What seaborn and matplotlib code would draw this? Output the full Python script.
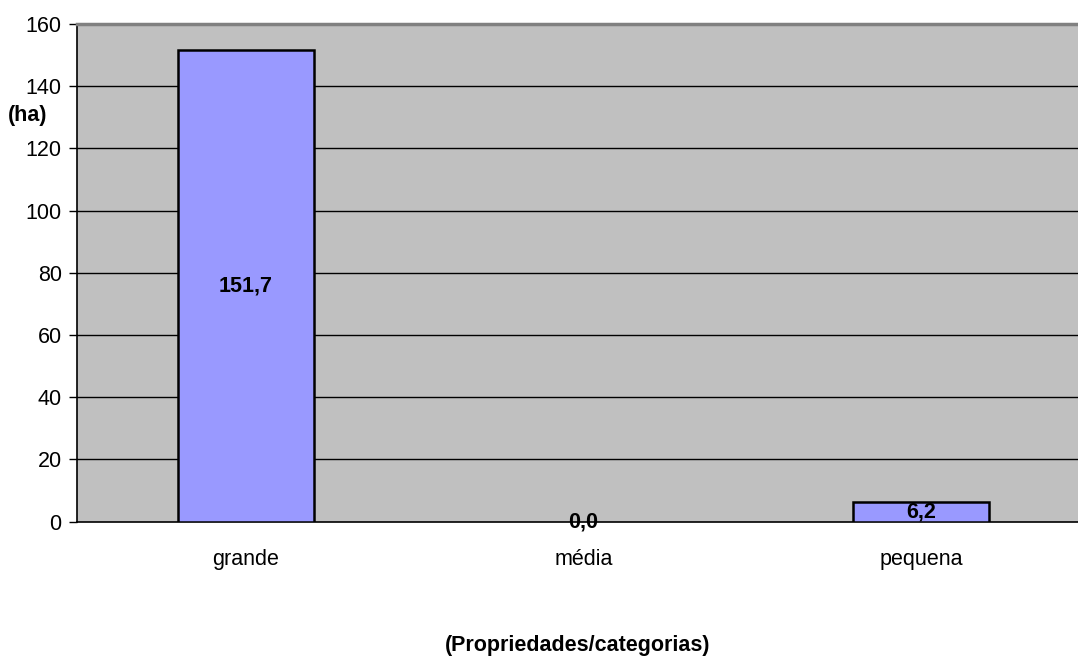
import matplotlib
matplotlib.use("Agg")
import matplotlib.pyplot as plt
import seaborn as sns
import pandas as pd

categorias = ["grande", "média", "pequena"]
area_ha = [151.7, 0.0, 6.2]
rotulos = ["151,7", "0,0", "6,2"]
y_ticks = [0, 20, 40, 60, 80, 100, 120, 140, 160]

sns.set_style("white")
plt.rcParams["font.family"] = ["Liberation Sans", "DejaVu Sans"]
plt.rcParams["text.color"] = "black"
plt.rcParams["xtick.color"] = "black"
plt.rcParams["ytick.color"] = "black"
plt.rcParams["xtick.labelcolor"] = "black"
plt.rcParams["ytick.labelcolor"] = "black"

FS = 15.5

df = pd.DataFrame({"categoria": categorias, "area": area_ha})

fig = plt.figure(figsize=(10.78, 6.66), dpi=100)
ax = fig.add_axes([77 / 1078, 1 - 521.7 / 666, (1090 - 77) / 1078, (521.7 - 24) / 666])
ax.set_facecolor("#C0C0C0")

sns.barplot(data=df, x="categoria", y="area", color="#9999FF", width=0.403,
            edgecolor="black", linewidth=1.8, saturation=1, ax=ax, zorder=3)

# a zero-height bar draws no outline
for patch, v in zip(ax.patches, area_ha):
    if v == 0:
        patch.set_linewidth(0)

ax.set_ylim(0, 160)
ax.set_xlim(-0.5, 2.5)
ax.set_yticks(y_ticks)
ax.set_yticklabels([str(t) for t in y_ticks], fontsize=FS)
for t in y_ticks[1:-1]:
    ax.axhline(t, color="black", linewidth=1.0, zorder=1)

# category labels centred, tick marks on the category boundaries
ax.set_xticks([0, 1, 2])
ax.set_xticklabels(categorias, fontsize=FS)
ax.tick_params(axis="x", length=0, pad=20)
ax.set_xticks([-0.5, 0.5, 1.5], minor=True)
ax.tick_params(axis="x", which="minor", length=6, width=1, color="black", direction="out")
ax.tick_params(axis="y", length=6, width=1, color="black", direction="out", left=True, pad=5)

ax.set_xlabel("")
ax.set_ylabel("")

for s in ["left", "bottom"]:
    ax.spines[s].set_color("black")
    ax.spines[s].set_linewidth(1.2)
ax.spines["top"].set_color("#808080")
ax.spines["top"].set_linewidth(2.5)
ax.spines["right"].set_visible(False)

for i, (v, lab) in enumerate(zip(area_ha, rotulos)):
    ax.text(i, v / 2, lab, ha="center", va="center", fontsize=FS,
            fontweight="bold", zorder=5)

fig.text(8 / 1078, 1 - 115 / 666, "(ha)", ha="left", va="center",
         fontsize=FS, fontweight="bold")
fig.text(578 / 1078, 1 - 645 / 666, "(Propriedades/categorias)", ha="center",
         va="center", fontsize=FS, fontweight="bold")

fig.savefig("out.png", dpi=100)
